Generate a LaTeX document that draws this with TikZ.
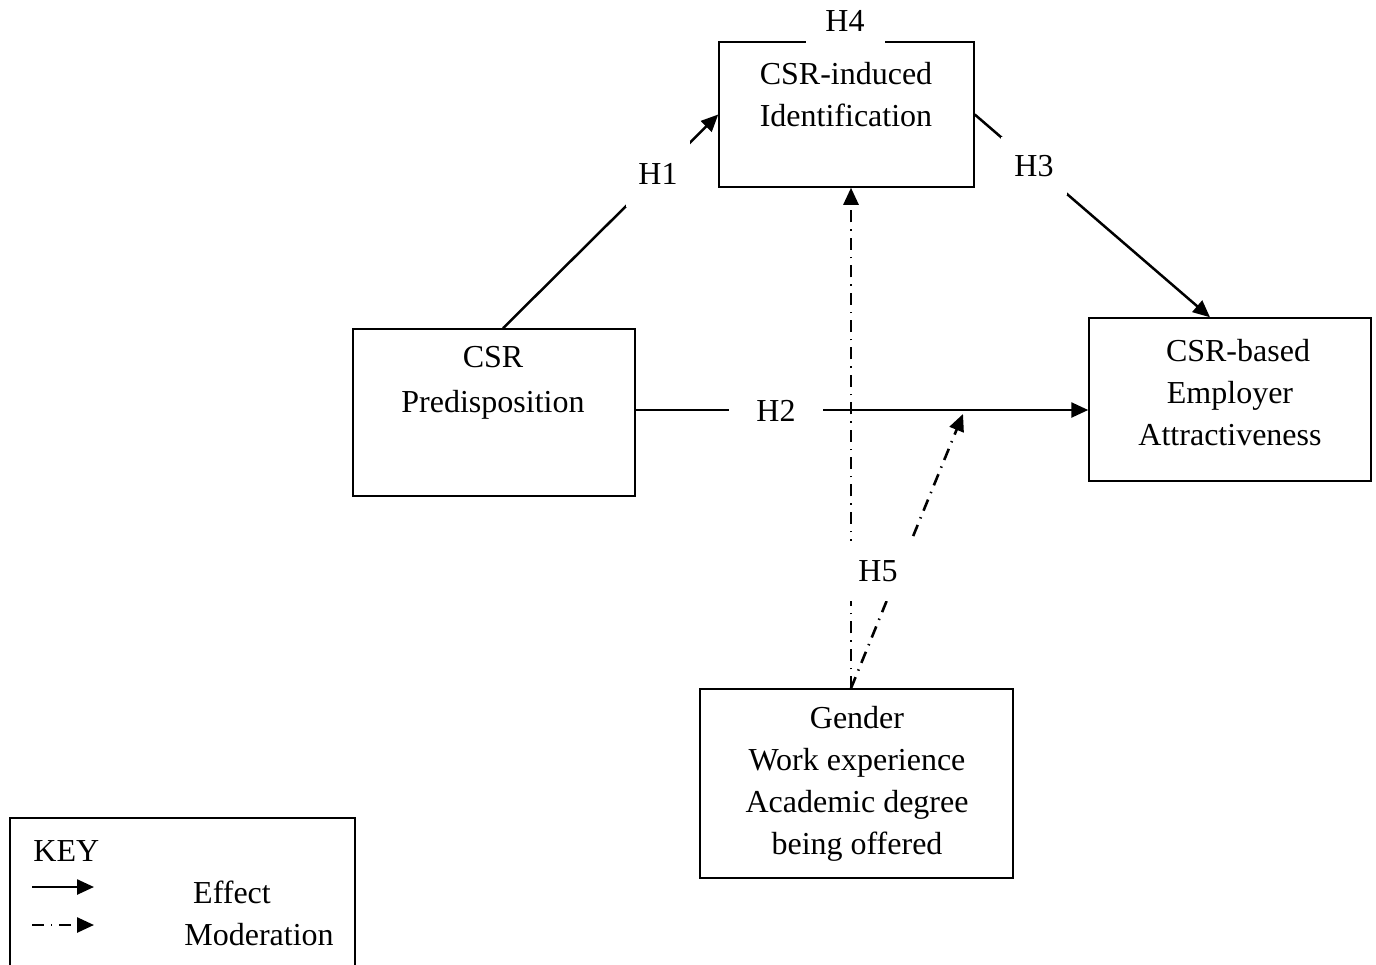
\documentclass[tikz,border=0pt]{standalone}
\usepackage{fontspec}
\setmainfont{Liberation Serif}
\usetikzlibrary{arrows.meta}

\tikzset{
  box/.style={draw, line width=0.75pt, rectangle, inner sep=0pt},
  txt/.style={align=center, inner sep=0pt, font=\fontsize{16}{21}\selectfont},
  hyp/.style={fill=white, inner sep=0pt, font=\fontsize{16}{21}\selectfont},
  effect/.style={line width=1.25pt, -{Triangle[length=8.5pt, width=7.5pt]}},
  moder/.style={line width=1.3pt, dash pattern=on 6pt off 3.5pt on 0.7pt off 3.5pt,
                -{Triangle[length=8.5pt, width=7.5pt]}},
}

\begin{document}
\begin{tikzpicture}[x=0.5pt, y=-0.5pt]
  \clip (0,0) rectangle (1376,964);
  \useasboundingbox (0,0) rectangle (1376,964);

  % construct boxes
  \node[box, minimum width=127.5pt, minimum height=72.5pt] (ident) at (846.5,114.5) {};
  \node[box, minimum width=141pt, minimum height=83.5pt] (pred) at (494,412.5) {};
  \node[box, minimum width=141pt, minimum height=81.5pt] (emp) at (1230,399.5) {};
  \node[box, minimum width=156.5pt, minimum height=94.5pt] (gend) at (856.5,783.5) {};

  % box contents
  \node[txt] (identtxt) at (846,95) {CSR-induced\\Identification};
  \node[txt, font=\fontsize{16}{22.5}\selectfont] (predtxt) at (493,383) {CSR\\Predisposition};
  \node[txt] (emptxt) at (1230,393) {\hspace*{8pt}CSR-based\\Employer\\Attractiveness};
  \node[txt] (gendtxt) at (857,784) {Gender\\Work experience\\Academic degree\\being offered};

  % effect paths
  \draw[effect] ([xshift=4.5pt]pred.north) -- (ident.west);
  \draw[effect] (ident.east) -- ([xshift=-10pt]emp.north);
  \draw[effect] ([yshift=1.25pt]pred.east) coordinate (h2s) -- (h2s -| emp.west);

  % moderation paths
  \coordinate (gm) at ([xshift=-2.75pt]gend.north);
  \coordinate (m2) at (963,414);
  \draw[moder] (gm) -- (gm |- ident.south);
  \draw[moder] (gm) -- (m2);

  % hypothesis labels
  \node[hyp, minimum width=32pt, minimum height=33pt] (h1) at (658,174) {H1};
  \node[hyp, minimum width=47pt, minimum height=10pt] (h2) at (776,411) {H2};
  \node[hyp, minimum width=33pt, minimum height=29pt] (h3) at (1034,166) {H3};
  \node[hyp, minimum width=39.5pt, minimum height=25pt] (h4) at (845,21) {H4};
  \node[hyp, minimum width=36pt, minimum height=30pt] (h5) at (878,571) {H5};

  % key
  \draw[line width=0.75pt] (10,818) rectangle (355,990);
  \node[txt, anchor=west] (keyt) at (33,851) {KEY};
  \coordinate (k1s) at (32,887);
  \coordinate (k1e) at (94,887);
  \coordinate (k2s) at (32,925);
  \coordinate (k2e) at (94,925);
  \draw[effect] (k1s) -- (k1e);
  \draw[moder] (k2s) -- (k2e);
  \node[txt] (keyeff) at (232,892) {Effect};
  \node[txt] (keymod) at (259,935) {Moderation};
\end{tikzpicture}
\end{document}
